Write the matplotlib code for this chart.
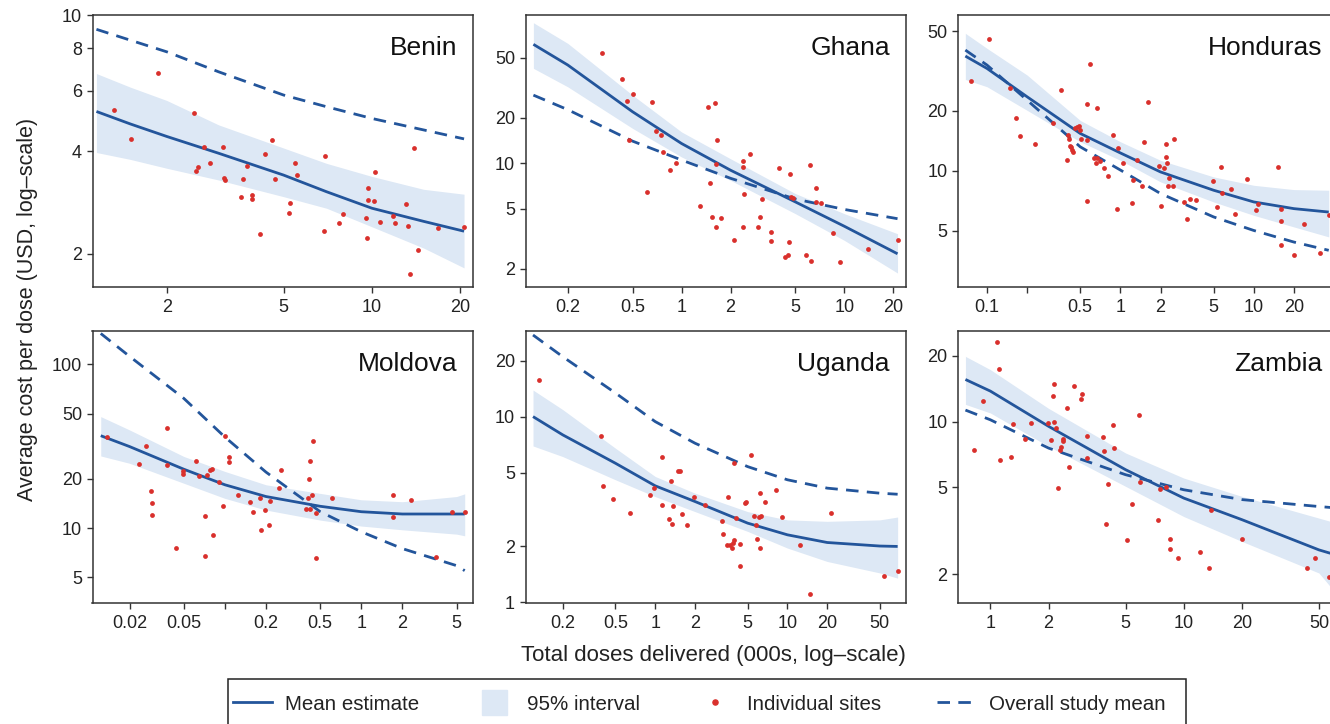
import matplotlib
matplotlib.use("Agg")
import matplotlib.pyplot as plt
from matplotlib.lines import Line2D
from matplotlib.patches import Rectangle
from matplotlib.ticker import NullLocator

plt.rcParams['font.family'] = ['Liberation Sans', 'DejaVu Sans']

BLUE = '#23559b'
BAND = '#dde8f5'
RED = '#d9302c'
FRAME = '#333333'

# ---- Benin ----
benin_x = [1.32, 1.51, 1.87, 2.47, 2.68, 2.52, 2.56, 2.81, 3.11, 3.13, 3.16, 3.63, 3.76, 3.57, 3.90,
           3.91, 4.16, 4.33, 4.55, 4.66, 5.46, 5.56, 5.26, 5.23, 6.93, 6.88, 7.70, 7.98, 9.56, 9.69,
           9.69, 10.13, 9.64, 10.26, 10.67, 11.76, 12.0, 13.1, 13.3, 13.9, 14.3, 13.5, 16.8, 20.6]
benin_y = [5.27, 4.34, 6.76, 5.15, 4.11, 3.50, 3.58, 3.70, 4.11, 3.33, 3.29, 3.31, 3.62, 2.94, 2.98,
           2.90, 2.29, 3.91, 4.30, 3.31, 3.68, 3.40, 2.82, 2.64, 3.87, 2.34, 2.47, 2.61, 2.55, 3.12,
           2.87, 2.85, 2.22, 3.47, 2.48, 2.58, 2.46, 2.79, 2.41, 4.08, 2.05, 1.75, 2.38, 2.40]
benin_cx = [1.15, 1.5, 2, 3, 5, 7, 10, 15, 20.6]
benin_mean = [5.22, 4.80, 4.41, 3.94, 3.40, 3.04, 2.72, 2.49, 2.33]
benin_lo = [3.96, 3.78, 3.56, 3.29, 2.94, 2.72, 2.40, 2.08, 1.82]
benin_hi = [6.74, 6.15, 5.62, 4.77, 4.08, 3.68, 3.37, 3.09, 2.99]
benin_dash = [9.08, 8.44, 7.80, 6.82, 5.83, 5.39, 4.98, 4.61, 4.34]

# ---- Ghana ----
ghana_x = [0.324, 0.432, 0.503, 0.465, 0.659, 0.473, 0.698, 0.749, 0.770, 0.927, 0.855, 0.614, 1.454,
           1.606, 1.644, 1.621, 1.496, 1.297, 1.532, 1.741, 1.637, 2.104, 2.38, 2.38, 2.63, 2.43, 2.38,
           2.93, 3.02, 3.12, 3.53, 3.56, 3.99, 4.64, 4.71, 4.82, 4.60, 4.34, 4.51, 5.80, 6.22, 6.14,
           6.69, 6.69, 7.14, 8.55, 9.36, 13.9, 21.2]
ghana_y = [53.8, 36.0, 28.8, 25.7, 25.4, 14.2, 16.4, 15.4, 11.8, 10.1, 9.08, 6.46, 23.5, 25.1, 14.3,
           9.90, 7.41, 5.22, 4.43, 4.32, 3.81, 3.12, 10.3, 9.50, 11.5, 6.23, 3.77, 3.80, 4.43, 5.83,
           3.51, 3.04, 9.31, 8.54, 5.98, 5.93, 3.00, 2.41, 2.47, 2.46, 2.26, 9.75, 6.87, 5.55, 5.49,
           3.46, 2.22, 2.72, 3.09]
ghana_cx = [0.123, 0.2, 0.5, 1, 2, 5, 10, 21.2]
ghana_mean = [61.1, 44.6, 21.9, 13.5, 8.99, 5.55, 3.83, 2.52]
ghana_lo = [42.4, 32.0, 17.0, 11.0, 7.7, 4.64, 3.09, 1.88]
ghana_hi = [84.9, 62.0, 28.2, 16.1, 10.7, 6.30, 4.64, 3.42]
ghana_dash = [28.2, 22.6, 14.0, 10.5, 7.95, 5.8, 4.95, 4.30]

# ---- Honduras ----
honduras_x = [0.0763, 0.1029, 0.148, 0.164, 0.176, 0.228, 0.314, 0.357, 0.398, 0.405, 0.410, 0.417,
              0.427, 0.437, 0.444, 0.4545, 0.473, 0.490, 0.500, 0.504, 0.562, 0.589, 0.566, 0.566,
              0.638, 0.668, 0.661, 0.668, 0.708, 0.759, 0.804, 0.876, 0.966, 0.944, 1.053, 1.23,
              1.25, 1.326, 1.445, 1.496, 1.613, 1.95, 2.0, 2.14, 2.18, 2.19, 2.24, 2.30, 2.26, 2.48,
              2.54, 2.99, 3.18, 3.35, 3.72, 4.95, 5.31, 5.72, 5.79, 6.76, 7.29, 8.86, 10.47, 10.8,
              15.2, 15.9, 16.1, 15.9, 20.2, 23.7, 31.3, 36.5]
honduras_y = [28.2, 45.6, 26.0, 18.5, 15.0, 13.6, 17.3, 25.5, 11.4, 15.1, 14.4, 13.4, 13.2, 12.7,
              12.4, 16.4, 16.6, 16.7, 16.0, 14.4, 21.7, 34.5, 14.3, 7.07, 11.6, 11.6, 10.9, 20.7,
              11.2, 10.3, 9.40, 15.2, 13.0, 6.42, 11.0, 6.91, 8.98, 11.3, 8.38, 13.9, 22.1, 10.6,
              6.67, 10.3, 11.8, 13.6, 10.9, 9.19, 8.38, 8.38, 14.4, 6.99, 5.77, 7.27, 7.18, 8.87,
              6.60, 10.4, 7.76, 8.09, 6.06, 9.12, 6.35, 6.80, 10.5, 6.42, 5.64, 4.27, 3.78, 5.42,
              3.89, 6.02]
honduras_cx = [0.0688, 0.1, 0.2, 0.5, 1, 2, 5, 10, 20, 36.5]
honduras_mean = [37.6, 32.6, 23.5, 15.4, 12.3, 9.88, 8.00, 6.99, 6.47, 6.22]
honduras_lo = [28.7, 26.4, 20.1, 14.0, 11.3, 8.81, 6.99, 5.99, 5.24, 4.67]
honduras_hi = [48.9, 41.1, 30.2, 17.9, 14.0, 11.3, 9.33, 8.47, 8.06, 8.0]
honduras_dash = [40.3, 33.9, 22.6, 13.2, 10.1, 7.70, 5.88, 5.03, 4.40, 4.0]

# ---- Moldova ----
moldova_x = [0.01363, 0.0235, 0.0266, 0.0287, 0.0290, 0.0290, 0.0378, 0.0378, 0.0440, 0.0489,
             0.0497, 0.0613, 0.0645, 0.0713, 0.0717, 0.0742, 0.0776, 0.0807, 0.0821, 0.0898,
             0.0961, 0.101, 0.107, 0.107, 0.125, 0.1526, 0.1605, 0.1796, 0.1847, 0.1954,
             0.2114, 0.2124, 0.2474, 0.2575, 0.391, 0.406, 0.413, 0.418, 0.418, 0.4346,
             0.4445, 0.465, 0.4627, 0.6128, 1.717, 1.707, 2.31, 3.53, 4.65, 5.73]
moldova_y = [35.9, 24.7, 31.9, 16.9, 14.2, 12.1, 41.1, 24.4, 7.59, 21.3, 22.2, 25.6, 20.8, 11.8,
             6.78, 21.0, 22.7, 23.1, 9.06, 19.1, 13.6, 36.6, 27.1, 25.3, 16.0, 14.5, 12.5, 15.2,
             9.81, 12.9, 10.5, 14.7, 17.5, 22.8, 13.1, 15.2, 19.9, 13.0, 25.6, 16.0, 34.1, 12.3,
             6.56, 15.3, 15.9, 11.7, 14.8, 6.63, 12.6, 12.6]
moldova_cx = [0.0123, 0.02, 0.05, 0.1, 0.2, 0.5, 1, 2, 5, 5.73]
moldova_mean = [36.7, 31.5, 22.9, 18.4, 15.6, 13.6, 12.6, 12.2, 12.2, 12.2]
moldova_lo = [27.6, 24.9, 18.8, 15.2, 12.9, 11.2, 10.3, 9.77, 9.19, 8.98]
moldova_hi = [48.0, 39.8, 27.4, 22.2, 18.4, 16.3, 14.9, 14.5, 15.6, 16.2]
moldova_dash = [154.5, 112.0, 62.0, 36.0, 22.0, 12.6, 9.5, 7.5, 5.9, 5.5]

# ---- Uganda ----
uganda_x = [0.1318, 0.3915, 0.403, 0.48, 0.639, 0.911, 0.971, 1.130, 1.117, 1.315, 1.277, 1.33,
            1.354, 1.486, 1.538, 1.603, 1.75, 1.966, 2.37, 3.19, 3.24, 3.54, 3.95, 3.48, 3.71,
            3.86, 3.95, 3.80, 4.09, 4.39, 4.39, 4.79, 4.88, 5.26, 5.61, 5.77, 6.05, 6.26, 5.90,
            6.15, 6.22, 6.76, 8.24, 9.09, 12.5, 14.9, 21.3, 53.4, 68.2]
uganda_y = [15.7, 7.87, 4.24, 3.59, 3.02, 3.79, 4.15, 6.04, 3.35, 4.49, 2.82, 2.63, 3.31, 5.08,
            5.12, 3.00, 2.60, 3.67, 3.35, 2.75, 2.32, 3.70, 5.61, 2.03, 2.03, 2.10, 2.17, 1.95,
            2.86, 2.05, 1.57, 3.42, 3.49, 6.22, 2.90, 2.62, 2.87, 2.90, 2.18, 3.86, 1.97, 3.45,
            4.02, 2.87, 2.03, 1.11, 3.02, 1.38, 1.47]
uganda_cx = [0.119, 0.2, 0.5, 1, 2, 5, 10, 20, 50, 68.2]
uganda_mean = [10.0, 7.97, 5.61, 4.24, 3.49, 2.67, 2.31, 2.10, 2.01, 2.0]
uganda_lo = [6.95, 6.09, 4.57, 3.71, 3.08, 2.41, 1.96, 1.66, 1.44, 1.35]
uganda_hi = [13.9, 10.9, 6.76, 4.76, 3.87, 3.08, 2.78, 2.73, 2.78, 2.88]
uganda_dash = [27.5, 21.0, 13.4, 9.40, 7.19, 5.38, 4.57, 4.12, 3.87, 3.82]

# ---- Zambia ----
zambia_x = [0.820, 0.913, 1.083, 1.109, 1.126, 1.279, 1.315, 1.517, 1.63, 1.98, 2.06, 2.10, 2.12,
            2.14, 2.19, 2.23, 2.30, 2.32, 2.36, 2.37, 2.49, 2.56, 2.70, 2.93, 2.98, 3.16, 3.17,
            3.81, 3.86, 3.97, 4.04, 4.33, 4.34, 5.07, 5.38, 5.87, 5.92, 7.34, 7.51, 8.07, 8.53,
            8.53, 9.38, 12.1, 13.5, 13.9, 19.9, 43.6, 47.6, 56.2]
zambia_y = [7.44, 12.4, 23.2, 17.5, 6.65, 6.89, 9.72, 8.36, 9.83, 9.83, 8.27, 13.1, 14.8, 10.0,
            9.32, 4.95, 7.44, 7.63, 8.13, 8.36, 11.5, 6.22, 14.6, 12.7, 13.4, 8.63, 6.82, 8.54,
            7.37, 3.41, 5.18, 9.65, 7.58, 2.86, 4.20, 10.7, 5.29, 3.56, 4.92, 5.0, 2.89, 2.62,
            2.37, 2.54, 2.14, 3.94, 2.91, 2.15, 2.39, 1.94]
zambia_cx = [0.743, 1, 2, 5, 10, 20, 50, 57.2]
zambia_mean = [15.6, 13.8, 9.52, 6.03, 4.47, 3.56, 2.59, 2.50]
zambia_lo = [12.0, 10.96, 7.71, 5.06, 3.68, 2.83, 2.03, 1.76]
zambia_hi = [19.9, 17.3, 11.5, 7.19, 5.52, 4.55, 3.62, 3.50]
zambia_dash = [11.3, 10.2, 7.57, 5.72, 4.88, 4.40, 4.09, 4.05]

# axis ranges and ticks (ticks listed in hidden_ticks get a mark but no label)
countries = ['Benin', 'Ghana', 'Honduras', 'Moldova', 'Uganda', 'Zambia']
xlims = [(1.115, 22.1), (0.110, 23.9), (0.0606, 43.2), (0.0107, 6.59), (0.1044, 78.9), (0.68, 63.1)]
ylims = [(1.60, 10), (1.52, 95.5), (2.62, 60.4), (3.49, 160), (0.992, 28.9), (1.48, 26.0)]
xticks = [[2, 5, 10, 20],
          [0.2, 0.5, 1, 2, 5, 10, 20],
          [0.1, 0.2, 0.5, 1, 2, 5, 10, 20],
          [0.02, 0.05, 0.1, 0.2, 0.5, 1, 2, 5],
          [0.2, 0.5, 1, 2, 5, 10, 20, 50],
          [1, 2, 5, 10, 20, 50]]
yticks = [[2, 4, 6, 8, 10],
          [2, 5, 10, 20, 50],
          [5, 10, 20, 50],
          [5, 10, 20, 50, 100],
          [1, 2, 5, 10, 20],
          [2, 5, 10, 20]]
hidden_ticks = {'Honduras': [0.2], 'Moldova': [0.1]}

panels = {
    'Benin': (benin_x, benin_y, benin_cx, benin_mean, benin_lo, benin_hi, benin_dash),
    'Ghana': (ghana_x, ghana_y, ghana_cx, ghana_mean, ghana_lo, ghana_hi, ghana_dash),
    'Honduras': (honduras_x, honduras_y, honduras_cx, honduras_mean, honduras_lo, honduras_hi, honduras_dash),
    'Moldova': (moldova_x, moldova_y, moldova_cx, moldova_mean, moldova_lo, moldova_hi, moldova_dash),
    'Uganda': (uganda_x, uganda_y, uganda_cx, uganda_mean, uganda_lo, uganda_hi, uganda_dash),
    'Zambia': (zambia_x, zambia_y, zambia_cx, zambia_mean, zambia_lo, zambia_hi, zambia_dash),
}

W, H = 1330, 724
fig = plt.figure(figsize=(W / 100, H / 100), dpi=100)

col_left = [92.5, 525.5, 958]
row_top = [15, 331]
pw, ph = 380.5, 272
dash_style = (0, (4.5, 3))

for i, name in enumerate(countries):
    px, py, cx, mean, lo, hi, dash = panels[name]
    left = col_left[i % 3]
    top = row_top[i // 3]
    ax = fig.add_axes([left / W, 1 - (top + ph) / H, pw / W, ph / H])
    ax.set_xscale('log')
    ax.set_yscale('log')

    ax.fill_between(cx, lo, hi, color=BAND, lw=0, zorder=1)
    ax.plot(cx, mean, color=BLUE, lw=2.0, zorder=3, solid_capstyle='butt', solid_joinstyle='round')
    ax.plot(cx, dash, color=BLUE, lw=2.0, ls=dash_style, zorder=3)
    ax.scatter(px, py, s=12, color=RED, lw=0, zorder=4)

    ax.set_xlim(*xlims[i])
    ax.set_ylim(*ylims[i])
    hide = hidden_ticks.get(name, [])
    ax.set_xticks(xticks[i], ['' if t in hide else f'{t:g}' for t in xticks[i]])
    ax.set_yticks(yticks[i], [f'{t:g}' for t in yticks[i]])
    ax.xaxis.set_minor_locator(NullLocator())
    ax.yaxis.set_minor_locator(NullLocator())
    ax.tick_params(which='both', direction='out', length=4.5, width=1.0, color=FRAME,
                   labelsize=13, labelcolor='#222222')
    ax.tick_params(axis='x', pad=4.5)
    ax.tick_params(axis='y', pad=3)
    for sp in ax.spines.values():
        sp.set_linewidth(1.1)
        sp.set_color(FRAME)

    ax.annotate(name, xy=(1, 1), xycoords='axes fraction', xytext=(-16, -21),
                textcoords='offset pixels', ha='right', va='top', fontsize=19, color='#111111')

fig.text(0.0205, 1 - 309 / H, 'Average cost per dose (USD, log\u2013scale)', rotation=90,
         ha='center', va='center', fontsize=15.5, color='#222222')
fig.text(713 / W, 1 - 656 / H, 'Total doses delivered (000s, log\u2013scale)',
         ha='center', va='center', fontsize=16, color='#222222')

handles = [
    Line2D([], [], color=BLUE, lw=2.0),
    Line2D([], [], marker='s', ms=18, color=BAND, ls='none'),
    Line2D([], [], marker='o', ms=3.7, color=RED, ls='none'),
    Line2D([], [], color=BLUE, lw=2.0, ls=dash_style),
]
labels = ['Mean estimate', '95% interval', 'Individual sites', 'Overall study mean']
fig.legend(handles, labels, ncol=4, loc='center left', bbox_to_anchor=(233 / W, 1 - 704 / H),
           frameon=False, borderpad=0, borderaxespad=0, fontsize=14.8, handlelength=1.9,
           handletextpad=0.62, columnspacing=2.72, labelcolor='#222222')
fig.add_artist(Rectangle((228 / W, -0.02), (1186 - 228) / W, 0.02 + (H - 679) / H,
                         transform=fig.transFigure, fill=False, ec='#222222', lw=1.1))

fig.savefig('out.png', dpi=100)
